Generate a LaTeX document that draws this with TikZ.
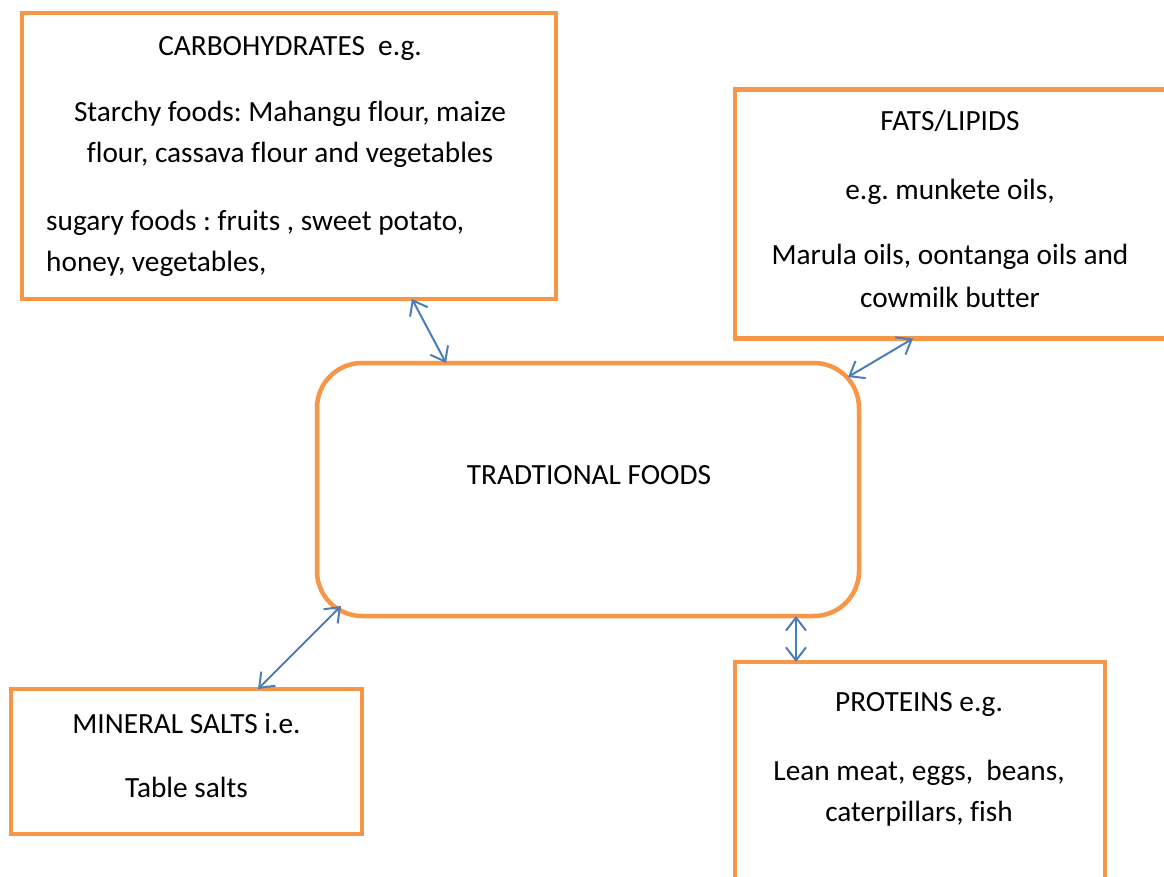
\documentclass[tikz,border=0pt]{standalone}
\usepackage{fontspec}
\setmainfont{Carlito}[Ligatures=NoCommon]
\usetikzlibrary{arrows.meta}
\definecolor{boxorange}{HTML}{F79646}
\definecolor{arrowblue}{HTML}{4A7EBB}
\tikzset{
  foodbox/.style={draw=boxorange, line width=4.5pt, rectangle, inner sep=0pt, outer sep=0pt},
  conn/.style={draw=arrowblue, line width=2pt,
    {Straight Barb[length=13pt,width=20pt,line width=2pt]}-{Straight Barb[length=13pt,width=20pt,line width=2pt]}},
  txt/.style={anchor=base, inner sep=0pt, font=\fontsize{29.3}{40}\selectfont},
  txtl/.style={anchor=base west, inner sep=0pt, font=\fontsize{29.3}{40}\selectfont}
}
\frenchspacing
\begin{document}
\begin{tikzpicture}[x=1pt,y=-1pt]
\useasboundingbox (0,0) rectangle (1164,877);
\fill[white] (0,0) rectangle (1164,877);
% boxes
\node[foodbox, minimum width=534pt, minimum height=286pt] (carb) at (289,156) {};
\node[foodbox, minimum width=431pt, minimum height=249pt] (fats) at (950.5,214) {};
\node[foodbox, rounded corners=45pt, minimum width=542pt, minimum height=253pt] (trad) at (588,489.5) {};
\node[foodbox, minimum width=351pt, minimum height=145pt] (mineral) at (186.5,761.5) {};
\node[foodbox, minimum width=370pt, minimum height=228pt] (prot) at (920,776) {};
% texts
\node[txt] (c1) at (290,56) {CARBOHYDRATES\ \ e.g.};
\node[txt] (c2) at (290,122) {Starchy foods: Mahangu flour, maize};
\node[txt] (c3) at (290,163) {flour, cassava flour and vegetables};
\node[txtl] (c4) at (46,231) {sugary foods : fruits , sweet potato,};
\node[txtl] (c5) at (46,272) {honey, vegetables,};
\node[txt] (f1) at (950,131) {FATS/LIPIDS};
\node[txt] (f2) at (950,200) {e.g. munkete oils,};
\node[txt] (f3) at (950,265) {Marula oils, oontanga oils and};
\node[txt] (f4) at (950,307) {cowmilk butter};
\node[txt] (t1) at (589,484) {TRADTIONAL FOODS};
\node[txt] (m1) at (186.5,733) {MINERAL SALTS i.e.};
\node[txt] (m2) at (186.5,797) {Table salts};
\node[txt] (p1) at (919,711) {PROTEINS e.g.};
\node[txt] (p2) at (919,780) {Lean meat, eggs,\ \ beans,};
\node[txt] (p3) at (919,821) {caterpillars, fish};
% connectors
\draw[conn] ([xshift=390pt]carb.south west) -- ([xshift=129pt]trad.north west);
\draw[conn] ([xshift=178pt]fats.south west) -- ([xshift=-11pt,yshift=-14pt]trad.north east);
\draw[conn] ([xshift=24pt,yshift=10pt]trad.south west) -- ([xshift=247pt]mineral.north west);
\draw[conn] ([xshift=479pt]trad.south west) -- ([xshift=61pt]prot.north west);
\end{tikzpicture}
\end{document}
